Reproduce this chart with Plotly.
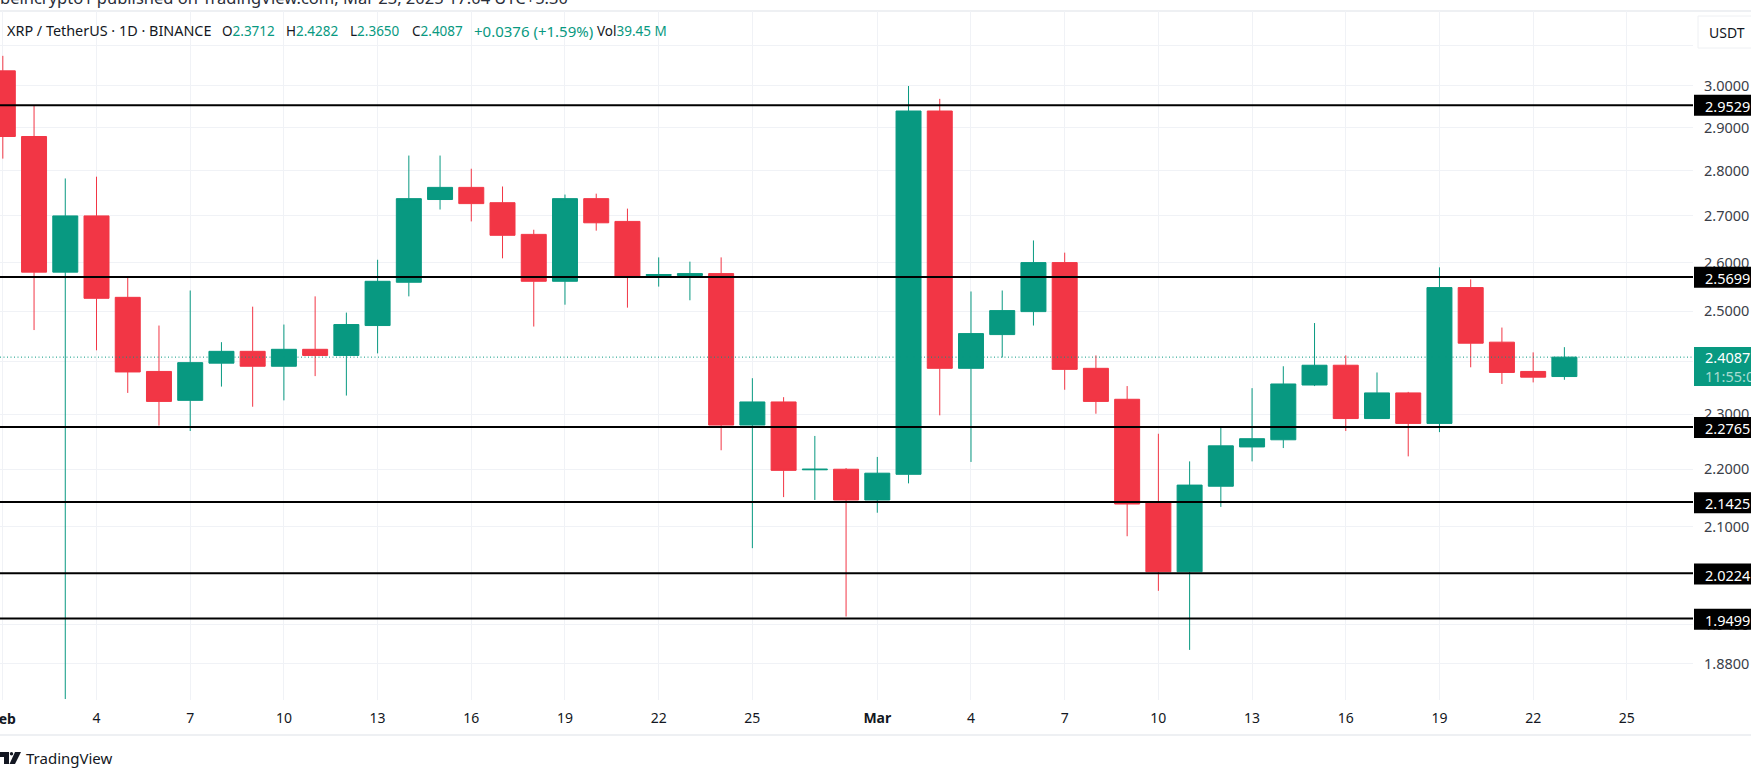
import math
import plotly.graph_objects as go

dates = (
    [f"2025-02-{d:02d}" for d in range(1, 29)]
    + [f"2025-03-{d:02d}" for d in range(1, 24)]
)
opens = [3.036, 2.879, 2.580, 2.700, 2.528, 2.381, 2.326, 2.397, 2.420, 2.391, 2.424, 2.412, 2.471, 2.559,
         2.736, 2.763, 2.729, 2.660, 2.561, 2.738, 2.688, 2.573, 2.573, 2.577, 2.280, 2.323, 2.199, 2.200,
         2.146, 2.191, 2.939, 2.387, 2.453, 2.499, 2.600, 2.387, 2.328, 2.141, 2.025, 2.170, 2.240, 2.253,
         2.355, 2.393, 2.292, 2.340, 2.283, 2.548, 2.438, 2.381, 2.3712]
highs = [3.073, 2.953, 2.783, 2.787, 2.570, 2.471, 2.542, 2.438, 2.509, 2.473, 2.530, 2.497, 2.606, 2.835,
         2.835, 2.805, 2.765, 2.670, 2.747, 2.749, 2.716, 2.611, 2.602, 2.611, 2.368, 2.332, 2.260, 2.202,
         2.222, 2.999, 2.968, 2.540, 2.542, 2.647, 2.621, 2.412, 2.353, 2.264, 2.214, 2.278, 2.349, 2.391,
         2.476, 2.412, 2.379, 2.342, 2.590, 2.565, 2.467, 2.418, 2.4282]
lows = [2.828, 2.462, 1.827, 2.422, 2.340, 2.279, 2.269, 2.352, 2.314, 2.326, 2.372, 2.335, 2.416, 2.530,
        2.714, 2.688, 2.609, 2.469, 2.513, 2.668, 2.507, 2.550, 2.522, 2.234, 2.064, 2.151, 2.146, 1.953,
        2.124, 2.175, 2.298, 2.213, 2.408, 2.471, 2.346, 2.301, 2.084, 1.994, 1.901, 2.134, 2.214, 2.238,
        2.353, 2.269, 2.292, 2.223, 2.267, 2.389, 2.357, 2.360, 2.3650]
closes = [2.879, 2.580, 2.700, 2.526, 2.380, 2.324, 2.398, 2.420, 2.391, 2.424, 2.412, 2.473, 2.561, 2.738,
          2.763, 2.727, 2.658, 2.561, 2.738, 2.685, 2.572, 2.575, 2.577, 2.280, 2.323, 2.198, 2.200, 2.146,
          2.193, 2.939, 2.387, 2.455, 2.501, 2.600, 2.385, 2.324, 2.139, 2.025, 2.172, 2.242, 2.255, 2.357,
          2.393, 2.292, 2.340, 2.283, 2.548, 2.436, 2.379, 2.370, 2.4087]

levels = [2.9529, 2.5699, 2.2765, 2.1425, 2.0224, 1.9499]
last_price = 2.4087
y_ticks = [3.1, 3.0, 2.9, 2.8, 2.7, 2.6, 2.5, 2.4, 2.3, 2.2, 2.1, 1.94, 1.88]
x_tick_dates = [
    "2025-02-01", "2025-02-04", "2025-02-07", "2025-02-10", "2025-02-13", "2025-02-16", "2025-02-19",
    "2025-02-22", "2025-02-25", "2025-03-01", "2025-03-04", "2025-03-07", "2025-03-10", "2025-03-13",
    "2025-03-16", "2025-03-19", "2025-03-22", "2025-03-25",
]
x_tick_labels = ["", "4", "7", "10", "13", "16", "19", "22", "25", "<b>Mar</b>", "4", "7", "10",
                 "13", "16", "19", "22", "25"]

GREEN, RED, GRID, TEXT = "#089981", "#F23645", "#F0F2F6", "#131722"
FONT = "Noto Sans"
W, H = 1751, 780
ML, MR, MT, MB = 0, 58, 11, 80


def px(x):
    return (x - ML) / (W - ML - MR)


def py(y):
    return (H - MB - y) / (H - MT - MB)


fig = go.Figure(
    go.Candlestick(
        x=dates, open=opens, high=highs, low=lows, close=closes,
        increasing=dict(line=dict(color=GREEN, width=1), fillcolor=GREEN),
        decreasing=dict(line=dict(color=RED, width=1), fillcolor=RED),
        whiskerwidth=0, showlegend=False,
    )
)

shapes = [
    dict(type="line", xref="x domain", yref="y", x0=0, x1=1, y0=last_price, y1=last_price,
         line=dict(color=GREEN, width=1, dash="1px,2.5px"), layer="above"),
]
for lv in levels:
    shapes.append(dict(type="line", xref="x domain", yref="y", x0=0, x1=1, y0=lv, y1=lv,
                       line=dict(color="#000000", width=2), layer="above"))

annotations = []


def page_text(text, x, y, size=14, color=TEXT, anchor="left"):
    annotations.append(dict(text=text, xref="paper", yref="paper", x=px(x), y=py(y), xanchor=anchor,
                            yanchor="middle", showarrow=False, align="left", borderpad=0, borderwidth=0,
                            font=dict(family=FONT, size=size, color=color)))


# frame and decoration drawn in page space
for y in (11, 735):
    shapes.append(dict(type="line", xref="paper", yref="paper", x0=px(0), x1=px(W), y0=py(y), y1=py(y),
                       line=dict(color="#EEF0F3", width=2), layer="below"))
shapes.append(dict(type="rect", xref="paper", yref="paper", x0=px(1698), x1=px(1760), y0=py(16), y1=py(48),
                   line=dict(color="#EEF0F3", width=1), fillcolor="white", layer="above"))
page_text("USDT", 1709, 32, 14)

# right axis price boxes
y_of = lambda p: 85.7 + 1238.6 * math.log(3.0 / p)
for lv in levels:
    y = y_of(lv)
    shapes.append(dict(type="rect", xref="paper", yref="paper", x0=px(1694), x1=px(W), y0=py(y - 10.5), y1=py(y + 10.5),
                       line=dict(width=0), fillcolor="#000000", layer="above"))
    page_text(f"{lv:.4f}", 1705, y + 0.5, 14.5, "#FFFFFF")
shapes.append(dict(type="rect", xref="paper", yref="paper", x0=px(1694), x1=px(W), y0=py(347), y1=py(386),
                   line=dict(width=0), fillcolor=GREEN, layer="above"))
page_text(f"{last_price:.4f}", 1705, 357.5, 14.5, "#FFFFFF")
page_text("11:55:0", 1705, 376, 14.5, "#A8DCD2")

# header
val = lambda s: f'<span style="color:{GREEN}">{s}</span>'
page_text("XRP / TetherUS · 1D · BINANCE", 7, 31, 14.4)
page_text("O" + val("2.3712"), 222, 31, 13.5)
page_text("H" + val("2.4282"), 286, 31, 13.5)
page_text("L" + val("2.3650"), 350, 31, 13.5)
page_text("C" + val("2.4087"), 412, 31, 13.5)
page_text(val("+0.0376\u00a0(+1.59%)"), 474, 31, 15)
page_text("Vol" + val("39.45\u00a0M"), 597, 31, 13.5)
page_text("beincrypto1 published on TradingView.com, Mar 23, 2025 17:04 UTC+5:30", 0, -3, 16.5, "#2A2E39")
page_text("<b>Feb</b>", 3.5, 718, 14, TEXT, "center")

# TradingView mark
shapes.append(dict(type="path", xref="paper", yref="paper", fillcolor="#131722", line=dict(width=0), layer="above",
                   path=f"M {px(0)} {py(752)} L {px(9)} {py(752)} L {px(9)} {py(764)} L {px(4)} {py(764)} "
                        f"L {px(4)} {py(757)} L {px(0)} {py(757)} Z"))
shapes.append(dict(type="circle", xref="paper", yref="paper", fillcolor="#131722", line=dict(width=0), layer="above",
                   x0=px(9.8), x1=px(13.2), y0=py(755.4), y1=py(752)))
shapes.append(dict(type="path", xref="paper", yref="paper", fillcolor="#131722", line=dict(width=0), layer="above",
                   path=f"M {px(15)} {py(752)} L {px(21)} {py(752)} L {px(15)} {py(764)} L {px(9.5)} {py(764)} Z"))
page_text("TradingView", 26, 758, 15, "#131722")

fig.update_layout(
    width=W, height=H, margin=dict(l=ML, r=MR, t=MT, b=MB, pad=0),
    paper_bgcolor="white", plot_bgcolor="white",
    font=dict(family=FONT, size=14, color=TEXT),
    boxgap=0.2, boxgroupgap=0, showlegend=False, shapes=shapes, annotations=annotations,
    xaxis=dict(
        type="date", rangeslider=dict(visible=False),
        range=["2025-01-31 21:50", "2025-03-27 02:50"],
        tickmode="array", tickvals=x_tick_dates, ticktext=x_tick_labels,
        showgrid=True, gridcolor=GRID, gridwidth=1, zeroline=False, showline=False,
        ticks="", ticklabelstandoff=8, tickfont=dict(family=FONT, size=14, color=TEXT),
    ),
    yaxis=dict(
        type="log", side="right", range=[0.2614, 0.50331],
        tickmode="array", tickvals=y_ticks,
        ticktext=["" if t == 3.1 else f"{t:.4f}" for t in y_ticks],
        showgrid=True, gridcolor=GRID, gridwidth=1, zeroline=False, showline=False,
        ticks="", ticklabelstandoff=10, tickfont=dict(family=FONT, size=14.5, color="#3A3E48"),
    ),
)

fig.write_html("out.html", config=dict(displayModeBar=False),
               post_script="document.body.style.margin='0';document.body.style.overflow='hidden';")
